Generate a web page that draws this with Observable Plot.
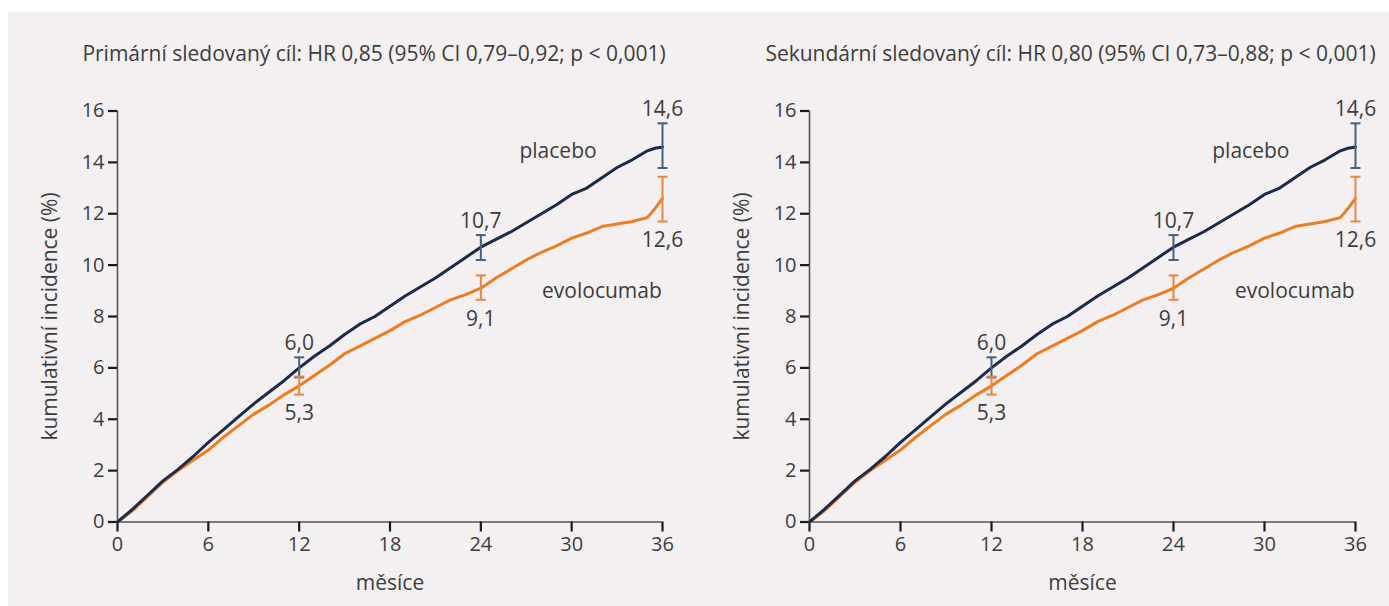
<!DOCTYPE html>
<html><head><meta charset="utf-8">
<script src="https://cdn.jsdelivr.net/npm/d3@7"></script>
<script src="https://cdn.jsdelivr.net/npm/@observablehq/plot@0.6"></script>
<style>
body{margin:0;background:#fff;width:1389px;height:606px;position:relative;overflow:hidden;font-family:"Open Sans",sans-serif}
#bg{position:absolute;left:8px;top:12px;width:1381px;height:594px;background:#f4eff1}
#p1,#p2{position:absolute;top:0}
#p1{left:0}#p2{left:692px}
</style></head><body><div id="bg"></div><div id="p1"></div><div id="p2"></div>
<script>
// ---- data ----
const months = [0,1,2,3,4,5,6,7,8,9,10,11,12,13,14,15,16,17,18,19,20,21,22,23,24,25,26,27,28,29,30,31,32,33,34,35,35.5,36];
const placebo = [0,0.5,1.05,1.6,2.05,2.55,3.1,3.6,4.1,4.6,5.05,5.5,6.0,6.45,6.85,7.3,7.7,8.0,8.4,8.8,9.15,9.5,9.9,10.3,10.7,11.0,11.3,11.65,12.0,12.35,12.75,13.0,13.4,13.8,14.1,14.45,14.55,14.6];
const evolocumab = [0,0.45,1.0,1.55,2.0,2.4,2.8,3.3,3.75,4.2,4.55,4.95,5.3,5.7,6.1,6.55,6.85,7.15,7.45,7.8,8.05,8.35,8.65,8.85,9.1,9.5,9.85,10.2,10.5,10.75,11.05,11.25,11.5,11.6,11.7,11.85,12.2,12.6];
const ciMonths = [12,24,36];
const placeboEst = [6.0,10.7,14.6];
const placeboLo = [5.63,10.2,13.78];
const placeboHi = [6.41,11.17,15.52];
const evoEst = [5.3,9.1,12.6];
const evoLo = [4.96,8.65,11.70];
const evoHi = [5.66,9.6,13.44];
const xTicks = [0,6,12,18,24,30,36];
const yTicks = [0,2,4,6,8,10,12,14,16];
const titles = [
  "Primární sledovaný cíl: HR 0,85 (95% CI 0,79–0,92; p < 0,001)",
  "Sekundární sledovaný cíl: HR 0,80 (95% CI 0,73–0,88; p < 0,001)"
];
const seriesNames = ["placebo","evolocumab"];
const xLabel = "měsíce";
const yLabel = "kumulativní incidence (%)";

// ---- styles ----
const NAVY = "#1c2b4c", ORANGE = "#ee7d22", NAVY_BAR = "#44617f", ORANGE_BAR = "#e8873f";
const TXT = "#3d3d3d", FS = 21, TFS = 20;
const fmt = v => v.toFixed(1).replace(".", ",");

const lineP = months.map((m,i) => ({m, v: placebo[i]}));
const lineE = months.map((m,i) => ({m, v: evolocumab[i]}));
const ciP = ciMonths.map((m,i) => ({m, est: placeboEst[i], lo: placeboLo[i], hi: placeboHi[i]}));
const ciE = ciMonths.map((m,i) => ({m, est: evoEst[i], lo: evoLo[i], hi: evoHi[i]}));
const cap = {draw(ctx, size){ const r = Math.sqrt(size/Math.PI); ctx.moveTo(-r,0); ctx.lineTo(r,0); }};

function panel(title, width, marginRight, titleDx){
  return Plot.plot({
    width, height: 606,
    marginLeft: 117, marginRight, marginTop: 110.5, marginBottom: 84.5,
    style: {background: "transparent", fontFamily: "'Open Sans', sans-serif", fontSize: FS+"px", color: TXT},
    x: {domain: [0,36]},
    y: {domain: [0,16]},
    marks: [
      Plot.ruleX([0], {stroke: "#555", strokeWidth: 1.6}),
      Plot.ruleY([0], {stroke: "#555", strokeWidth: 1.6}),
      Plot.axisX({ticks: xTicks, tickSize: 10, tickPadding: 5, stroke: "#1a1a1a", strokeWidth: 2.2, fill: TXT, fontSize: TFS, label: null}),
      Plot.axisY({ticks: yTicks, tickSize: 9, tickPadding: 4, stroke: "#1a1a1a", strokeWidth: 2.2, fill: TXT, fontSize: TFS, label: null}),
      Plot.line(lineE, {x: "m", y: "v", stroke: ORANGE, strokeWidth: 3}),
      Plot.line(lineP, {x: "m", y: "v", stroke: NAVY, strokeWidth: 3}),
      Plot.ruleX(ciP, {x: "m", y1: "lo", y2: "hi", stroke: NAVY_BAR, strokeWidth: 2}),
      Plot.dot(ciP, {x: "m", y: "lo", symbol: cap, r: 5, stroke: NAVY_BAR, strokeWidth: 2, fill: "none"}),
      Plot.dot(ciP, {x: "m", y: "hi", symbol: cap, r: 5, stroke: NAVY_BAR, strokeWidth: 2, fill: "none"}),
      Plot.ruleX(ciE, {x: "m", y1: "lo", y2: "hi", stroke: ORANGE_BAR, strokeWidth: 2}),
      Plot.dot(ciE, {x: "m", y: "lo", symbol: cap, r: 5, stroke: ORANGE_BAR, strokeWidth: 2, fill: "none"}),
      Plot.dot(ciE, {x: "m", y: "hi", symbol: cap, r: 5, stroke: ORANGE_BAR, strokeWidth: 2, fill: "none"}),
      Plot.text(ciP, {x: "m", y: "hi", text: d => fmt(d.est), dy: -14, fill: TXT, fontSize: FS}),
      Plot.text(ciE, {x: "m", y: "lo", text: d => fmt(d.est), dy: 19, fill: TXT, fontSize: FS}),
      Plot.text([{m: 29.1, v: 14.45, t: seriesNames[0]}], {x: "m", y: "v", text: "t", fill: TXT, fontSize: FS}),
      Plot.text([{m: 32.0, v: 9.0, t: seriesNames[1]}], {x: "m", y: "v", text: "t", fill: TXT, fontSize: FS}),
      Plot.text([title], {frameAnchor: "top", lineAnchor: "middle", dy: -57, dx: titleDx, fill: TXT, fontSize: FS}),
      Plot.text([xLabel], {frameAnchor: "bottom", lineAnchor: "middle", dy: 61.5, fill: TXT, fontSize: FS}),
      Plot.text([yLabel], {frameAnchor: "left", textAnchor: "middle", lineAnchor: "middle", dx: -67, rotate: -90, fill: TXT, fontSize: FS})
    ]
  });
}
document.getElementById("p1").append(panel(titles[0], 690, 28, -16));
document.getElementById("p2").append(panel(titles[1], 697, 34, -12));
</script></body></html>
